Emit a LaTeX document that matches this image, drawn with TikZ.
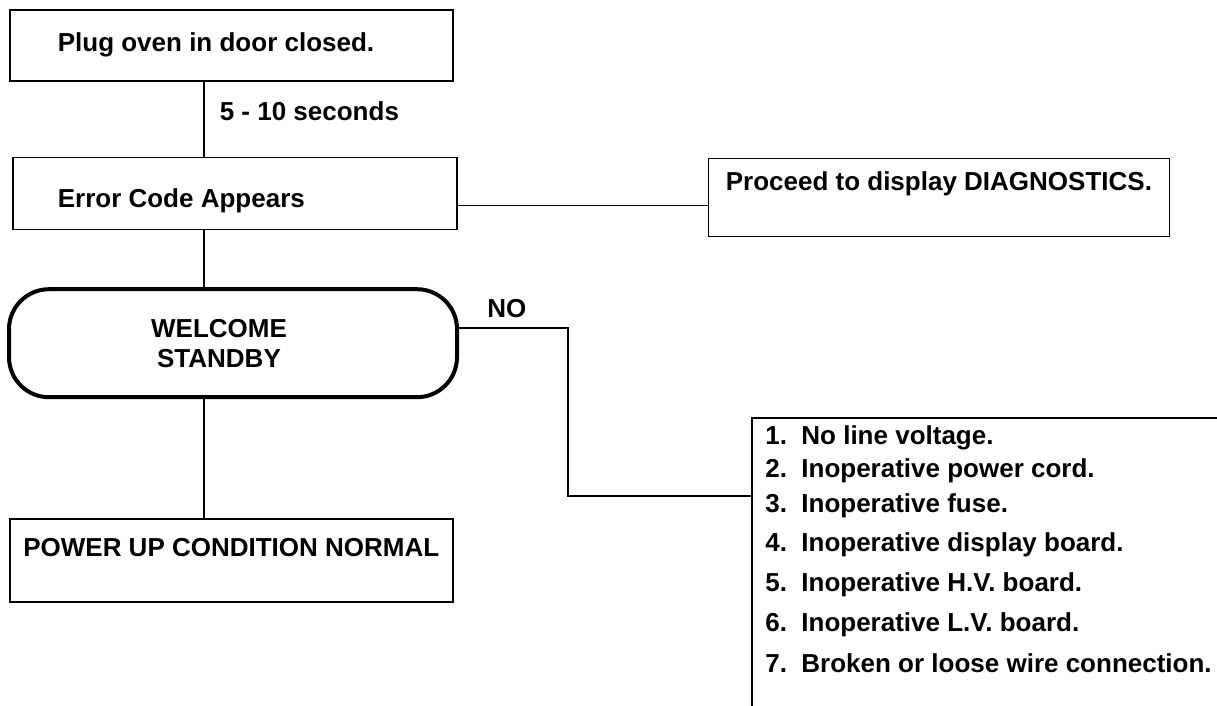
\documentclass[tikz,border=0pt]{standalone}
\usepackage{fontspec}
\setmainfont{Liberation Sans}
\usetikzlibrary{positioning}
\newcommand{\fault}[2]{\hspace*{6.5pt}\makebox[18pt][l]{#1}#2}

\begin{document}
\begin{tikzpicture}[
x=0.5pt,y=-0.5pt,
box/.style={rectangle,draw,line width=0.8pt,anchor=north west,inner ysep=0pt,
font=\bfseries\fontsize{13}{15}\selectfont},
roundbox/.style={box,rounded corners=20pt,line width=2pt,align=center},
note/.style={inner sep=0pt,font=\bfseries\fontsize{13}{15}\selectfont},
listbox/.style={note,anchor=north west,text width=250pt,align=flush left,
text height=13pt,text depth=131pt},
link/.style={line width=0.8pt}
]
\useasboundingbox (0,0) rectangle (1217,706);
\node[box,minimum width=221.5pt,text width=173.5pt,inner xsep=24pt,align=flush left,
text height=21pt,text depth=14.5pt] (plug) at (9,9) {Plug oven in door closed.};
\node[box,below=37.5pt of plug.south west,anchor=north west,xshift=1.5pt,
minimum width=222pt,text width=177pt,inner xsep=22.5pt,align=flush left,
text height=25pt,text depth=11pt] (error) {Error Code Appears};
\node[box,right=125pt of error.north east,anchor=north west,yshift=-0.5pt,
minimum width=230.5pt,inner xsep=0pt,text height=16pt,text depth=23pt] (diag)
{Proceed to display DIAGNOSTICS.};
\node[roundbox,below=28.5pt of error.south west,anchor=north west,xshift=-2.5pt,
minimum width=224pt,minimum height=54pt] (welcome)
{WELCOME\hspace*{14pt}\\STANDBY\hspace*{14pt}};
\node[box,below=59.5pt of welcome.south west,anchor=north west,xshift=1pt,
minimum width=221.5pt,inner xsep=0pt,text height=18.5pt,text depth=23pt] (normal)
{POWER UP CONDITION NORMAL};
\node[listbox] (causes) at (752,418) {%
\fault{1.}{No line voltage.}\\[1.5pt]
\fault{2.}{Inoperative power cord.}\\[2.5pt]
\fault{3.}{Inoperative fuse.}\\[4.5pt]
\fault{4.}{Inoperative display board.}\\[5pt]
\fault{5.}{Inoperative H.V. board.}\\[5pt]
\fault{6.}{Inoperative L.V. board.}\\[5.5pt]
\fault{7.}{Broken or loose wire connection.}};

\coordinate (edge) at (1217,0);
\coordinate (spine) at (204,0);
\coordinate (bend) at (568,496);
\draw[link] (causes.north west -| edge) -- (causes.north west) -- (causes.south west);
\draw[link] (plug.south -| spine) -- node[note,right=7.5pt,pos=0.4] {5 - 10 seconds} (error.north -| spine);
\draw[link] ([yshift=-6pt]error.east) -- ([yshift=-6pt]error.east -| diag.west);
\draw[link] (error.south -| spine) -- (welcome.north -| spine);
\draw[link] (welcome.south -| spine) -- (normal.north -| spine);
\draw[link] ([yshift=7.5pt]welcome.east) -| node[note,pos=0.22,above=5pt] {NO} (bend)
  -- (bend -| causes.west);
\end{tikzpicture}
\end{document}
